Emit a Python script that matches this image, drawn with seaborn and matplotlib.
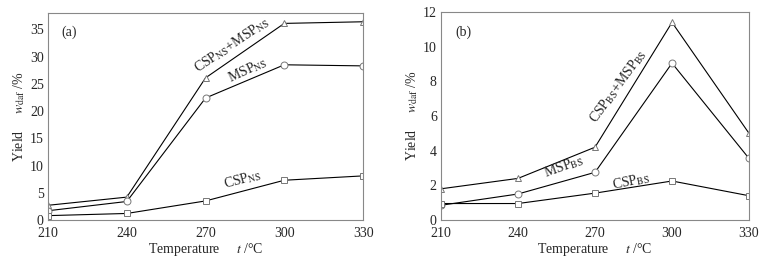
import matplotlib
matplotlib.use('Agg')
import matplotlib.pyplot as plt
import seaborn as sns

sns.set_style('white')
plt.rcParams['font.family'] = ['Liberation Serif', 'DejaVu Sans']
plt.rcParams['mathtext.fontset'] = 'stix'
plt.rcParams['font.size'] = 10
plt.rcParams['xtick.labelsize'] = 10.
plt.rcParams['ytick.labelsize'] = 10.

temps = [210, 240, 270, 300, 330]

# (a) NS
ns_total = [2.7, 4.2, 26.1, 36.1, 36.4]
ns_msp = [1.7, 3.4, 22.4, 28.5, 28.3]
ns_csp = [0.8, 1.2, 3.5, 7.3, 8.1]

# (b) BS
bs_total = [1.8, 2.4, 4.2, 11.4, 5.0]
bs_msp = [0.85, 1.5, 2.75, 9.05, 3.55]
bs_csp = [0.95, 0.95, 1.55, 2.25, 1.4]

fig = plt.figure(figsize=(7.71, 2.59), dpi=100)
ax1 = fig.add_axes([0.0623, 0.1506, 0.4086, 0.799])
ax2 = fig.add_axes([0.572, 0.1506, 0.3995, 0.803])


def draw(ax, series, ylim, yticks):
    for vals, mk in series:
        sns.lineplot(x=temps, y=vals, ax=ax, color='black', linewidth=0.8,
                     marker=mk, markersize=5, markerfacecolor='white',
                     markeredgecolor='#777777', markeredgewidth=0.7)
    ax.set_xlim(210, 330)
    ax.set_ylim(*ylim)
    ax.set_xticks(temps)
    ax.set_yticks(yticks)
    for s in ax.spines.values():
        s.set_color('#888888')
        s.set_linewidth(0.8)
    ax.tick_params(direction='in', length=2, color='#888888', pad=3)
    ax.tick_params(axis='x', pad=5)
    ax.set_xlabel('Temperature     $t$ /°C', labelpad=1)
    ax.set_ylabel('Yield     $w_{\\rm daf}$ /%', labelpad=2)


draw(ax1, [(ns_total, '^'), (ns_msp, 'o'), (ns_csp, 's')], (0, 38),
     [0, 5, 10, 15, 20, 25, 30, 35])
draw(ax2, [(bs_total, '^'), (bs_msp, 'o'), (bs_csp, 's')], (0, 12),
     [0, 2, 4, 6, 8, 10, 12])

ax1.text(218, 34.5, '(a)', ha='center', va='center')
ax1.text(280, 32.1, 'CSP$_{\\rm NS}$+MSP$_{\\rm NS}$', rotation=34,
         ha='center', va='center')
ax1.text(286, 27.6, 'MSP$_{\\rm NS}$', rotation=25, ha='center', va='center')
ax1.text(284, 7.4, 'CSP$_{\\rm NS}$', rotation=15, ha='center', va='center')

ax2.text(218.6, 10.85, '(b)', ha='center', va='center')
ax2.text(279, 7.7, 'CSP$_{\\rm BS}$+MSP$_{\\rm BS}$', rotation=54,
         ha='center', va='center')
ax2.text(258, 3.1, 'MSP$_{\\rm BS}$', rotation=20, ha='center', va='center')
ax2.text(284, 2.25, 'CSP$_{\\rm BS}$', rotation=12, ha='center', va='center')

plt.savefig('out.png', dpi=100)
